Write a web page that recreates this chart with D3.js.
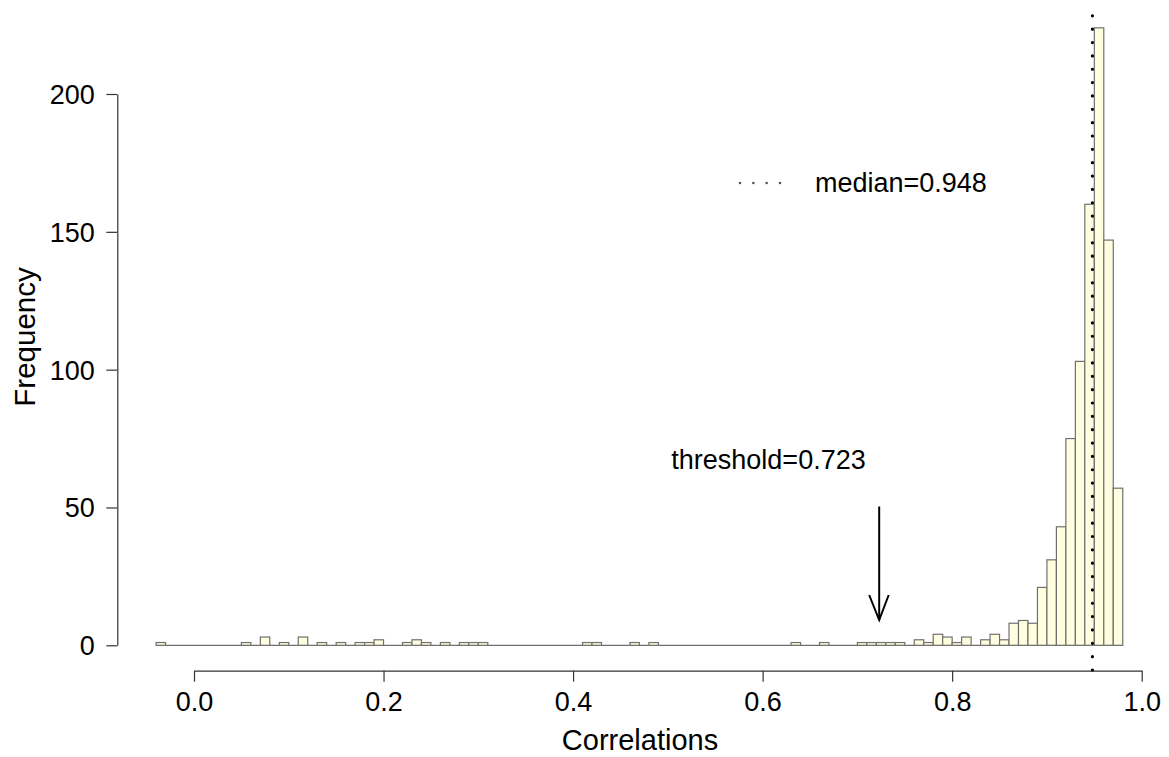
<!DOCTYPE html>
<html>
<head>
<meta charset="utf-8">
<script src="https://cdn.jsdelivr.net/npm/d3@7/dist/d3.min.js"></script>
<style>
  html, body { margin: 0; padding: 0; background: #fff; }
  svg { display: block; font-family: "Liberation Sans", Arial, Helvetica, sans-serif; }
</style>
</head>
<body>
<svg id="chart" width="1169" height="757"></svg>
<script>
// ---- data ----
const binWidth = 0.01;
const breakFirst = -0.04;
const breakLast = 0.98;
// lower edges of non-empty bins
const binStarts = [-0.04, 0.05, 0.07, 0.09, 0.11, 0.13, 0.15, 0.17, 0.18, 0.19,
  0.22, 0.23, 0.24, 0.26, 0.28, 0.29, 0.30, 0.41, 0.42, 0.46, 0.48, 0.63, 0.66,
  0.70, 0.71, 0.72, 0.73, 0.74, 0.76, 0.77, 0.78, 0.79, 0.80, 0.81, 0.83, 0.84,
  0.85, 0.86, 0.87, 0.88, 0.89, 0.90, 0.91, 0.92, 0.93, 0.94, 0.95, 0.96, 0.97];
const binCounts = [1, 1, 3, 1, 3, 1, 1, 1, 1, 2,
  1, 2, 1, 1, 1, 1, 1, 1, 1, 1, 1, 1, 1,
  1, 1, 1, 1, 1, 2, 1, 4, 3, 1, 3, 2, 4,
  2, 8, 9, 8, 21, 31, 43, 75, 103, 160, 224, 147, 57];
const xTicks = [0.0, 0.2, 0.4, 0.6, 0.8, 1.0];
const yTicks = [0, 50, 100, 150, 200];
const medianValue = 0.948;
const thresholdValue = 0.723;
const xTitle = "Correlations";
const yTitle = "Frequency";

// ---- scales ----
const x = d3.scaleLinear().domain([0, 1]).range([194, 1141.7]);
const y = d3.scaleLinear().domain([0, 200]).range([645.3, 94]);
const yTop = 232.96, yBottom = -8.96; // plot region extent (in data units)

const svg = d3.select("#chart");

// ---- bars ----
const bars = binStarts.map((s, i) => ({x0: s, x1: s + binWidth, n: binCounts[i]}));
svg.append("line")
  .attr("x1", x(breakFirst)).attr("x2", x(breakLast))
  .attr("y1", y(0)).attr("y2", y(0))
  .attr("stroke", "#707070").attr("stroke-width", 1.2);
svg.append("g").selectAll("rect").data(bars).join("rect")
  .attr("x", d => x(d.x0))
  .attr("y", d => y(d.n))
  .attr("width", d => x(d.x1) - x(d.x0))
  .attr("height", d => y(0) - y(d.n))
  .attr("fill", "#FFFFE0")
  .attr("stroke", "#707070")
  .attr("stroke-width", 1.2);

// ---- axes ----
const fs = 27;
const gx = svg.append("g").attr("transform", `translate(0,670.7)`)
  .call(d3.axisBottom(x).tickValues(xTicks).tickFormat(d3.format(".1f")).tickSize(11).tickSizeOuter(0));
gx.selectAll("path.domain, .tick line").attr("stroke", "#333").attr("stroke-width", 1.2);
gx.selectAll(".tick text").attr("y", 40.5).attr("dy", 0).attr("font-size", fs)
  .attr("fill", "#000").attr("font-family", "Liberation Sans, Arial, sans-serif");

const gy = svg.append("g").attr("transform", `translate(117.3,0)`)
  .call(d3.axisLeft(y).tickValues(yTicks).tickSize(11).tickSizeOuter(0));
gy.selectAll("path.domain, .tick line").attr("stroke", "#333").attr("stroke-width", 1.2);
gy.selectAll(".tick text").attr("x", -22.5).attr("dy", "0.35em").attr("font-size", fs)
  .attr("fill", "#000").attr("font-family", "Liberation Sans, Arial, sans-serif");

// ---- axis titles ----
svg.append("text").attr("x", 640).attr("y", 750)
  .attr("text-anchor", "middle").attr("font-size", 29).text(xTitle);
svg.append("text").attr("transform", "translate(35,337) rotate(-90)")
  .attr("text-anchor", "middle").attr("font-size", 29.5).text(yTitle);

// ---- median line ----
svg.append("line")
  .attr("x1", x(medianValue)).attr("x2", x(medianValue))
  .attr("y1", y(yBottom)).attr("y2", y(yTop))
  .attr("stroke", "#000").attr("stroke-width", 3.2)
  .attr("stroke-linecap", "round").attr("stroke-dasharray", "0 13.35");

// ---- legend ----
svg.append("line")
  .attr("x1", 740).attr("x2", 781).attr("y1", 183).attr("y2", 183)
  .attr("stroke", "#555").attr("stroke-width", 2.6)
  .attr("stroke-linecap", "round").attr("stroke-dasharray", "0 13.33");
svg.append("text").attr("x", 815).attr("y", 192)
  .attr("font-size", fs).text("median=" + medianValue);

// ---- threshold annotation ----
const tx = x(thresholdValue);
svg.append("text").attr("x", 768.5).attr("y", 469)
  .attr("text-anchor", "middle").attr("font-size", fs).text("threshold=" + thresholdValue);
svg.append("line").attr("x1", tx).attr("x2", tx).attr("y1", 506.5).attr("y2", 620)
  .attr("stroke", "#000").attr("stroke-width", 2);
svg.append("path")
  .attr("d", `M${tx - 10},${595} L${tx},${620} L${tx + 9.5},${595}`)
  .attr("fill", "none").attr("stroke", "#000").attr("stroke-width", 2);
</script>
</body>
</html>
